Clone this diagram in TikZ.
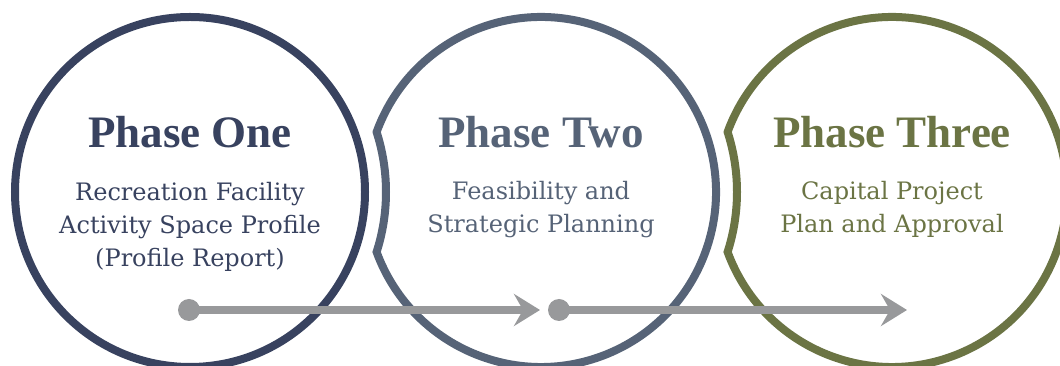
\documentclass[tikz,border=0pt]{standalone}
\usepackage{fontspec}
\setmainfont{DejaVu Serif}
\newfontfamily\headfont{Liberation Serif}
\usetikzlibrary{positioning, arrows.meta, calc}
\definecolor{navy}{HTML}{38425F}
\definecolor{slate}{HTML}{566377}
\definecolor{olive}{HTML}{6B7444}
\definecolor{track}{HTML}{98999B}

\begin{document}
\begin{tikzpicture}[
  x=1pt, y=1pt,
  ring/.style={line width=8pt, line join=miter, miter limit=10},
  head/.style={font=\headfont\bfseries\fontsize{45}{45}\selectfont, anchor=base},
  sub/.style={font=\fontsize{24}{33}\selectfont, align=center, anchor=base},
  dot/.style={circle, fill=track, inner sep=0pt, minimum size=22pt},
  flow/.style={line width=8pt, track, -{Stealth[length=26pt, width=32pt, inset=9pt]}}
]
  \useasboundingbox (0,0) rectangle (1060,366);
  \pgfmathsetmacro{\rr}{17.5}
  \pgfmathsetmacro{\ra}{19.6}
  \pgfmathsetmacro{\dd}{35.1}
  \pgfmathsetmacro{\ofs}{(\ra*\ra-\rr*\rr+\dd*\dd)/(2*\dd)}
  \pgfmathsetmacro{\hh}{sqrt(\ra*\ra-\ofs*\ofs)}
  \pgfmathsetmacro{\bb}{atan(\hh/\ofs)}
  \pgfmathsetmacro{\aa}{180-atan(\hh/(\dd-\ofs))}

  \coordinate (c1) at (190,174);
  \coordinate (c2) at (541,174);
  \coordinate (c3) at (892,174);

  \draw[ring, navy] (c1) circle[radius=175];
  \foreach \c/\p/\col in {c2/c1/slate, c3/c2/olive}
    \draw[ring, \col] ($(\c)+(\aa:175)$) arc[start angle=\aa, end angle=-\aa, radius=175]
      arc[start angle=-\bb, end angle=\bb, radius=196] -- cycle;

  \node[head, navy] (title1) at (190,218) {Phase One};
  \node[head, slate] (title2) at (541,218) {Phase Two};
  \node[head, olive] (title3) at (892,218) {Phase Three};

  \node[sub, navy] (desc1) at (190,99) {Recreation Facility\\Activity Space Profile\\(Profile Report)};
  \node[sub, slate] (desc2) at (541,133) {Feasibility and\\Strategic Planning};
  \node[sub, olive] (desc3) at (892,133) {Capital Project\\Plan and Approval};

  \node[dot] (start1) at (189,56) {};
  \node[dot] (start2) at (559,56) {};
  \coordinate (end1) at (540,56);
  \coordinate (end2) at (907,56);
  \draw[flow] (start1.center) -- (end1);
  \draw[flow] (start2.center) -- (end2);
\end{tikzpicture}
\end{document}
